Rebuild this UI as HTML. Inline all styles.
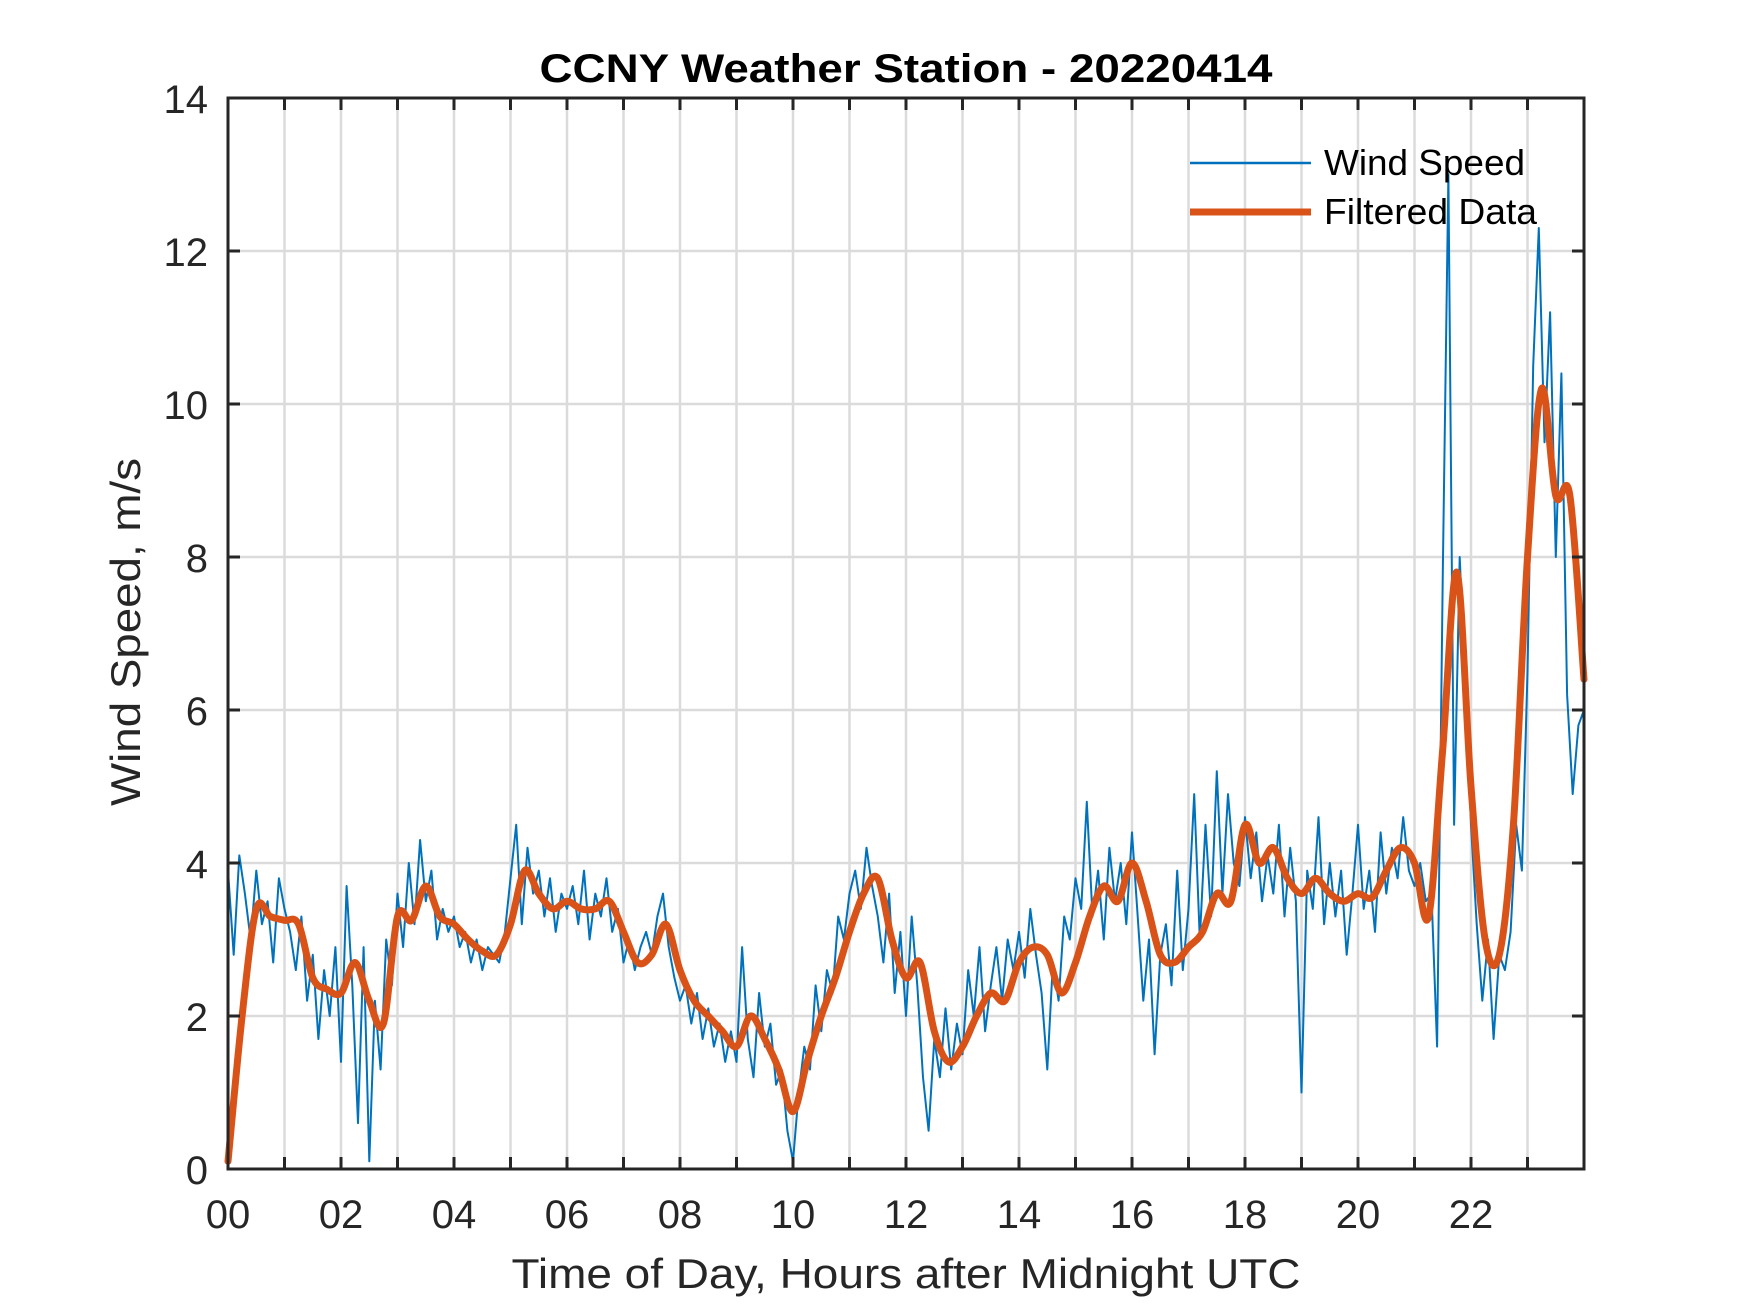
<!DOCTYPE html>
<html><head><meta charset="utf-8"><style>
html,body{margin:0;padding:0;background:#fff;}
svg{display:block;font-family:"Liberation Sans",Arial,sans-serif;}
</style></head><body>
<svg id="chart" width="1750" height="1313" viewBox="0 0 1750 1313">
<rect x="0" y="0" width="1750" height="1313" fill="#fff"/>
<g id="grid"></g>
<g id="series"></g>
<g id="axes"></g>
<text x="906" y="82" text-anchor="middle" font-size="40" font-weight="bold" fill="#000" textLength="733" lengthAdjust="spacingAndGlyphs">CCNY Weather Station - 20220414</text>
<text x="906" y="1288" text-anchor="middle" font-size="42" fill="#262626" textLength="789" lengthAdjust="spacingAndGlyphs">Time of Day, Hours after Midnight UTC</text>
<text transform="translate(140,632) rotate(-90)" text-anchor="middle" font-size="42" fill="#262626" textLength="348" lengthAdjust="spacingAndGlyphs">Wind Speed, m/s</text>
<g>
<line x1="1190" y1="163" x2="1311" y2="163" stroke="#0072bd" stroke-width="2.5"/>
<text x="1324" y="175" font-size="36" fill="#000" textLength="201" lengthAdjust="spacingAndGlyphs">Wind Speed</text>
<line x1="1190" y1="212" x2="1311" y2="212" stroke="#d95319" stroke-width="7"/>
<text x="1324" y="224" font-size="36" fill="#000" textLength="213" lengthAdjust="spacingAndGlyphs">Filtered Data</text>
</g>
</svg>
<script>
const xTicks = [0,2,4,6,8,10,12,14,16,18,20,22];
const xTickLabels = ["00","02","04","06","08","10","12","14","16","18","20","22"];
const yTicks = [0,2,4,6,8,10,12,14];
const yTickLabels = ["0","2","4","6","8","10","12","14"];
const windStep = 0.1;
const windSpeed = [
3.9,2.8,4.1,3.6,3.0,3.9,3.2,3.5,2.7,3.8,
3.4,3.1,2.6,3.3,2.2,2.8,1.7,2.6,2.0,2.9,
1.4,3.7,2.4,0.6,2.9,0.1,2.2,1.3,3.0,2.4,
3.6,2.9,4.0,3.2,4.3,3.5,3.9,3.0,3.4,3.1,
3.3,2.9,3.1,2.7,3.0,2.6,2.9,2.8,2.7,3.1,
3.8,4.5,3.2,4.2,3.6,3.9,3.3,3.8,3.1,3.6,
3.4,3.7,3.2,3.9,3.0,3.6,3.3,3.8,3.1,3.4,
2.7,3.0,2.6,2.9,3.1,2.8,3.3,3.6,2.9,2.5,
2.2,2.4,1.9,2.3,1.7,2.1,1.6,1.9,1.4,1.8,
1.4,2.9,1.7,1.2,2.3,1.6,1.9,1.1,1.3,0.5,
0.1,1.0,1.6,1.3,2.4,1.8,2.6,2.3,3.3,3.0,
3.6,3.9,3.4,4.2,3.7,3.3,2.7,3.6,2.3,3.1,
2.0,3.3,2.4,1.2,0.5,1.7,1.2,2.1,1.3,1.9,
1.5,2.6,2.0,2.9,1.8,2.4,2.9,2.2,3.0,2.6,
3.1,2.5,3.4,2.8,2.3,1.3,2.7,2.2,3.3,3.0,
3.8,3.4,4.8,3.3,3.9,3.0,4.2,3.5,4.0,3.2,
4.4,3.3,2.2,3.0,1.5,2.8,3.2,2.4,3.9,2.6,
3.4,4.9,3.0,4.5,3.3,5.2,3.6,4.9,4.0,3.7,
4.6,3.8,4.4,3.5,4.1,3.6,4.5,3.3,4.2,3.5,
1.0,3.9,3.4,4.6,3.2,4.0,3.3,3.9,2.8,3.6,
4.5,3.4,3.9,3.1,4.4,3.6,4.2,3.8,4.6,3.9,
3.7,4.0,3.5,3.6,1.6,7.8,13.0,4.5,8.0,6.3,
4.5,3.2,2.2,3.0,1.7,2.8,2.6,3.1,4.5,3.9,
6.5,10.5,12.3,9.5,11.2,8.0,10.4,6.2,4.9,5.8,
6.0];
const filteredStep = 0.25;
const filtered = [
0.1,2.0,3.4,3.3,3.25,3.2,2.5,2.35,2.3,2.7,2.2,1.9,
3.3,3.25,3.7,3.3,3.2,3.0,2.85,2.8,3.2,3.9,3.6,3.4,
3.5,3.4,3.4,3.5,3.1,2.7,2.8,3.2,2.6,2.2,2.0,1.8,
1.6,2.0,1.7,1.3,0.75,1.4,2.0,2.5,3.1,3.6,3.8,3.0,
2.5,2.7,1.8,1.4,1.6,2.0,2.3,2.2,2.7,2.9,2.8,2.3,
2.7,3.3,3.7,3.5,4.0,3.5,2.8,2.7,2.9,3.1,3.6,3.5,
4.5,4.0,4.2,3.8,3.6,3.8,3.6,3.5,3.6,3.55,3.9,4.2,
4.0,3.3,5.5,7.8,5.0,3.0,2.8,4.5,8.0,10.2,8.8,8.8,
6.4];

const X0=228, X1=1584, Y0=98, Y1=1169;
const xScale = h => X0 + (h/24)*(X1-X0);
const yScale = v => Y1 - (v/14)*(Y1-Y0);
const NS='http://www.w3.org/2000/svg';
function mk(tag, attrs, parent){const e=document.createElementNS(NS,tag);for(const k in attrs)e.setAttribute(k,attrs[k]);parent.appendChild(e);return e;}
const grid=document.getElementById('grid'), axes=document.getElementById('axes'), series=document.getElementById('series');

for(let h=1;h<24;h++){
  const g=mk('line',{x1:xScale(h),x2:xScale(h),y1:Y0,y2:Y1,stroke:'#dbdbdb','stroke-width':2.5},grid);
  
  
  for(const [ya,yb] of [[Y1,Y1-12],[Y0,Y0+12]]){
    const t=mk('line',{x1:xScale(h),x2:xScale(h),y1:ya,y2:yb,stroke:'#262626','stroke-width':3},axes);
    
    
  }
}
yTicks.forEach((v,i)=>{
  if(v>0&&v<14){
    const g=mk('line',{x1:X0,x2:X1,y1:yScale(v),y2:yScale(v),stroke:'#dbdbdb','stroke-width':2.5},grid);
    
    
    for(const [xa,xb] of [[X0,X0+12],[X1,X1-12]]){
      const t=mk('line',{x1:xa,x2:xb,y1:yScale(v),y2:yScale(v),stroke:'#262626','stroke-width':3},axes);
      
      
    }
  }
  const l=mk('text',{x:208,y:yScale(v)+15,'text-anchor':'end','font-size':40,fill:'#262626'},axes);
  l.textContent=yTickLabels[i];
  
  
});
xTicks.forEach((h,i)=>{
  const l=mk('text',{x:xScale(h),y:1228,'text-anchor':'middle','font-size':40,fill:'#262626'},axes);
  l.textContent=xTickLabels[i];
  
  
});
const frame=mk('rect',{x:X0,y:Y0,width:X1-X0,height:Y1-Y0,fill:'none',stroke:'#262626','stroke-width':3},axes);



const wp=windSpeed.map((v,i)=>xScale(i*windStep).toFixed(1)+','+yScale(v).toFixed(1)).join(' ');
const wl=mk('polyline',{points:wp,fill:'none',stroke:'#0072bd','stroke-width':2,'stroke-linejoin':'round'},series);



const pts=filtered.map((v,i)=>[xScale(i*filteredStep), yScale(v)]);
let d='M'+pts[0][0].toFixed(1)+','+pts[0][1].toFixed(1);
for(let i=0;i<pts.length-1;i++){
  const p0=pts[Math.max(0,i-1)], p1=pts[i], p2=pts[i+1], p3=pts[Math.min(pts.length-1,i+2)];
  const c1x=p1[0]+(p2[0]-p0[0])/6, c1y=p1[1]+(p2[1]-p0[1])/6;
  const c2x=p2[0]-(p3[0]-p1[0])/6, c2y=p2[1]-(p3[1]-p1[1])/6;
  d+=' C'+c1x.toFixed(1)+','+c1y.toFixed(1)+' '+c2x.toFixed(1)+','+c2y.toFixed(1)+' '+p2[0].toFixed(1)+','+p2[1].toFixed(1);
}
const fl=mk('path',{d:d,fill:'none',stroke:'#d95319','stroke-width':7,'stroke-linejoin':'round','stroke-linecap':'round'},series);


</script>
</body></html>
